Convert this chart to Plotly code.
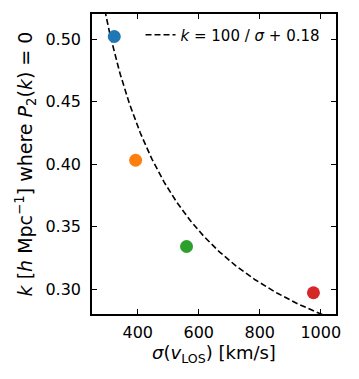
"""
Scale where the quadrupole P2(k) crosses zero vs. velocity dispersion
"""
# Imports ---------------------------------------------------------------------
import numpy as np
import plotly.graph_objects as go

# Data ------------------------------------------------------------------------
sigma_vlos = [323, 393, 560, 976]
k_zero = [0.502, 0.403, 0.334, 0.297]
colors = ["#1f77b4", "#ff7f0e", "#2ca02c", "#d62728"]

x_ticks = [400, 600, 800, 1000]
y_ticks = [0.30, 0.35, 0.40, 0.45, 0.50]

# model curve k = 100/sigma + 0.18
sigma_model = np.linspace(280, 1060, 300)
k_model = 100 / sigma_model + 0.18

FONT = "DejaVu Sans"

# Figure ----------------------------------------------------------------------
fig = go.Figure()
fig.add_trace(
    go.Scatter(
        x=sigma_model, y=k_model, mode="lines",
        line=dict(color="black", width=1.6, dash="6px,3px"),
        name="<i>k</i> = 100 / <i>σ</i> + 0.18",
    )
)
for s, k, c in zip(sigma_vlos, k_zero, colors):
    fig.add_trace(
        go.Scatter(
            x=[s], y=[k], mode="markers",
            marker=dict(color=c, size=13, line=dict(width=0)),
            showlegend=False,
        )
    )

axis_style = dict(
    showline=True, linecolor="black", linewidth=1.6, mirror="allticks",
    ticks="inside", ticklen=5, tickwidth=1.4, tickcolor="black",
    showgrid=False, zeroline=False, automargin=False,
    tickfont=dict(family=FONT, size=16, color="black"),
)

# page body adds an 8px margin, so the figure is sized to fit the window
fig.update_layout(
    width=351, height=371,
    margin=dict(l=84, r=23, t=6, b=65),
    plot_bgcolor="white", paper_bgcolor="white",
    font=dict(family=FONT, size=16, color="black"),
    xaxis=dict(
        range=[250, 1050], tickvals=x_ticks, ticklabelstandoff=3,
        title=dict(text="<i>σ</i>(<i>v</i><sub>LOS</sub>) [km/s]", standoff=0,
                   font=dict(family=FONT, size=18)),
        **axis_style,
    ),
    yaxis=dict(
        range=[0.28, 0.52], tickvals=y_ticks, tickformat=".2f", ticklabelstandoff=6,
        title=dict(text="<i>k</i> [<i>h</i> Mpc<sup>−1</sup>] where <i>P</i><sub>2</sub>(<i>k</i>) = 0",
                   standoff=8, font=dict(family=FONT, size=19)),
        **axis_style,
    ),
    legend=dict(
        x=0.957, y=0.985, xanchor="right", yanchor="top",
        bgcolor="rgba(0,0,0,0)", font=dict(family=FONT, size=15),
        itemwidth=30,
    ),
    showlegend=True,
)

fig.write_html("out.html")
